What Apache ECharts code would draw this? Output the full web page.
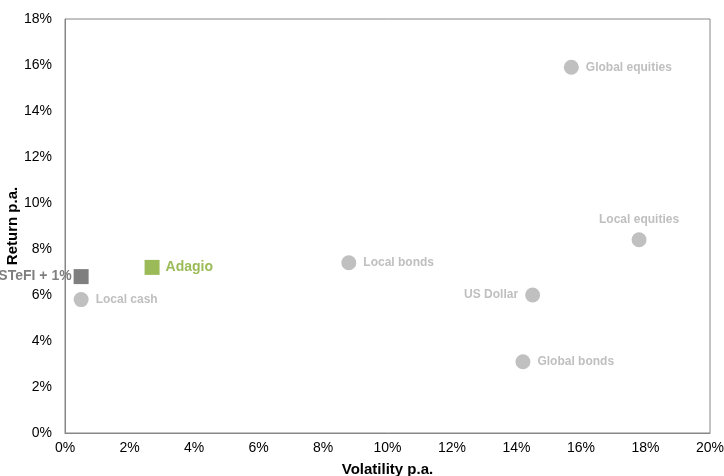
<!DOCTYPE html>
<html>
<head>
<meta charset="utf-8">
<script src="https://cdn.jsdelivr.net/npm/echarts@6/dist/echarts.min.js"></script>
<style>
html,body{margin:0;padding:0;background:#fff;}
#chart{width:724px;height:476px;}
</style>
</head>
<body>
<div id="chart"></div>
<script>
// Asset classes (grey circles): [volatility %, return %]
const assetNames = ['Global equities', 'Local equities', 'Local bonds', 'US Dollar', 'Global bonds', 'Local cash'];
const assetVol = [15.7, 17.8, 8.8, 14.5, 14.2, 0.5];
const assetRet = [15.9, 8.4, 7.4, 6.0, 3.1, 5.8];
const assetLabelPos = ['right', 'top', 'right', 'left', 'right', 'right'];

const fundName = 'Adagio';
const fundVol = [2.7];
const fundRet = [7.2];

const benchName = 'STeFI + 1%';
const benchVol = [0.5];
const benchRet = [6.8];

const xTicks = [0, 2, 4, 6, 8, 10, 12, 14, 16, 18, 20];
const yTicks = [0, 2, 4, 6, 8, 10, 12, 14, 16, 18];

const FONT = '"Liberation Sans", Arial, sans-serif';

const chart = echarts.init(document.getElementById('chart'), null, {renderer: 'canvas'});

const assetData = assetNames.map((n, i) => ({
  name: n,
  value: [assetVol[i], assetRet[i]],
  label: {position: assetLabelPos[i]}
}));

chart.setOption({
  animation: false,
  backgroundColor: '#ffffff',
  grid: {left: 65, right: 14, top: 19, bottom: 43, containLabel: false, outerBoundsMode: 'none',
         show: true, borderColor: '#868686', borderWidth: 1},
  xAxis: {
    type: 'value', min: xTicks[0], max: xTicks[xTicks.length - 1], interval: 2,
    name: 'Volatility p.a.', nameLocation: 'middle', nameGap: 29, nameMoveOverlap: false,
    nameTextStyle: {fontFamily: FONT, fontWeight: 'bold', fontSize: 15, color: '#000'},
    axisLine: {show: true, lineStyle: {color: '#868686'}},
    axisTick: {show: false},
    splitLine: {show: false},
    axisLabel: {formatter: v => v + '%', fontFamily: FONT, fontSize: 14, color: '#000', margin: 8}
  },
  yAxis: {
    type: 'value', min: yTicks[0], max: yTicks[yTicks.length - 1], interval: 2,
    name: 'Return p.a.', nameLocation: 'middle', nameGap: 45, nameMoveOverlap: false,
    nameTextStyle: {fontFamily: FONT, fontWeight: 'bold', fontSize: 15, color: '#000'},
    axisLine: {show: true, lineStyle: {color: '#868686'}},
    axisTick: {show: false},
    splitLine: {show: false},
    axisLabel: {formatter: v => v + '%', fontFamily: FONT, fontSize: 14, color: '#000', margin: 13}
  },
  series: [
    {
      type: 'scatter', symbol: 'circle', symbolSize: 15,
      itemStyle: {color: '#c0c0c0', opacity: 1},
      label: {show: true, formatter: '{b}', fontFamily: FONT, fontWeight: 'bold', fontSize: 12, color: '#bfbfbf', distance: 7},
      data: assetData
    },
    {
      type: 'scatter', symbol: 'rect', symbolSize: 15,
      itemStyle: {color: '#9bbb59', opacity: 1},
      label: {show: true, position: 'right', formatter: '{b}', fontFamily: FONT, fontWeight: 'bold', fontSize: 14, color: '#9bbb59', distance: 6},
      data: fundVol.map((v, i) => ({name: fundName, value: [v, fundRet[i]]}))
    },
    {
      type: 'scatter', symbol: 'rect', symbolSize: 15,
      itemStyle: {color: '#7f7f7f', opacity: 1},
      label: {show: true, position: 'left', formatter: '{b}', fontFamily: FONT, fontWeight: 'bold', fontSize: 14, color: '#7f7f7f', distance: 2},
      data: benchVol.map((v, i) => ({name: benchName, value: [v, benchRet[i]]}))
    }
  ]
});
</script>
</body>
</html>
